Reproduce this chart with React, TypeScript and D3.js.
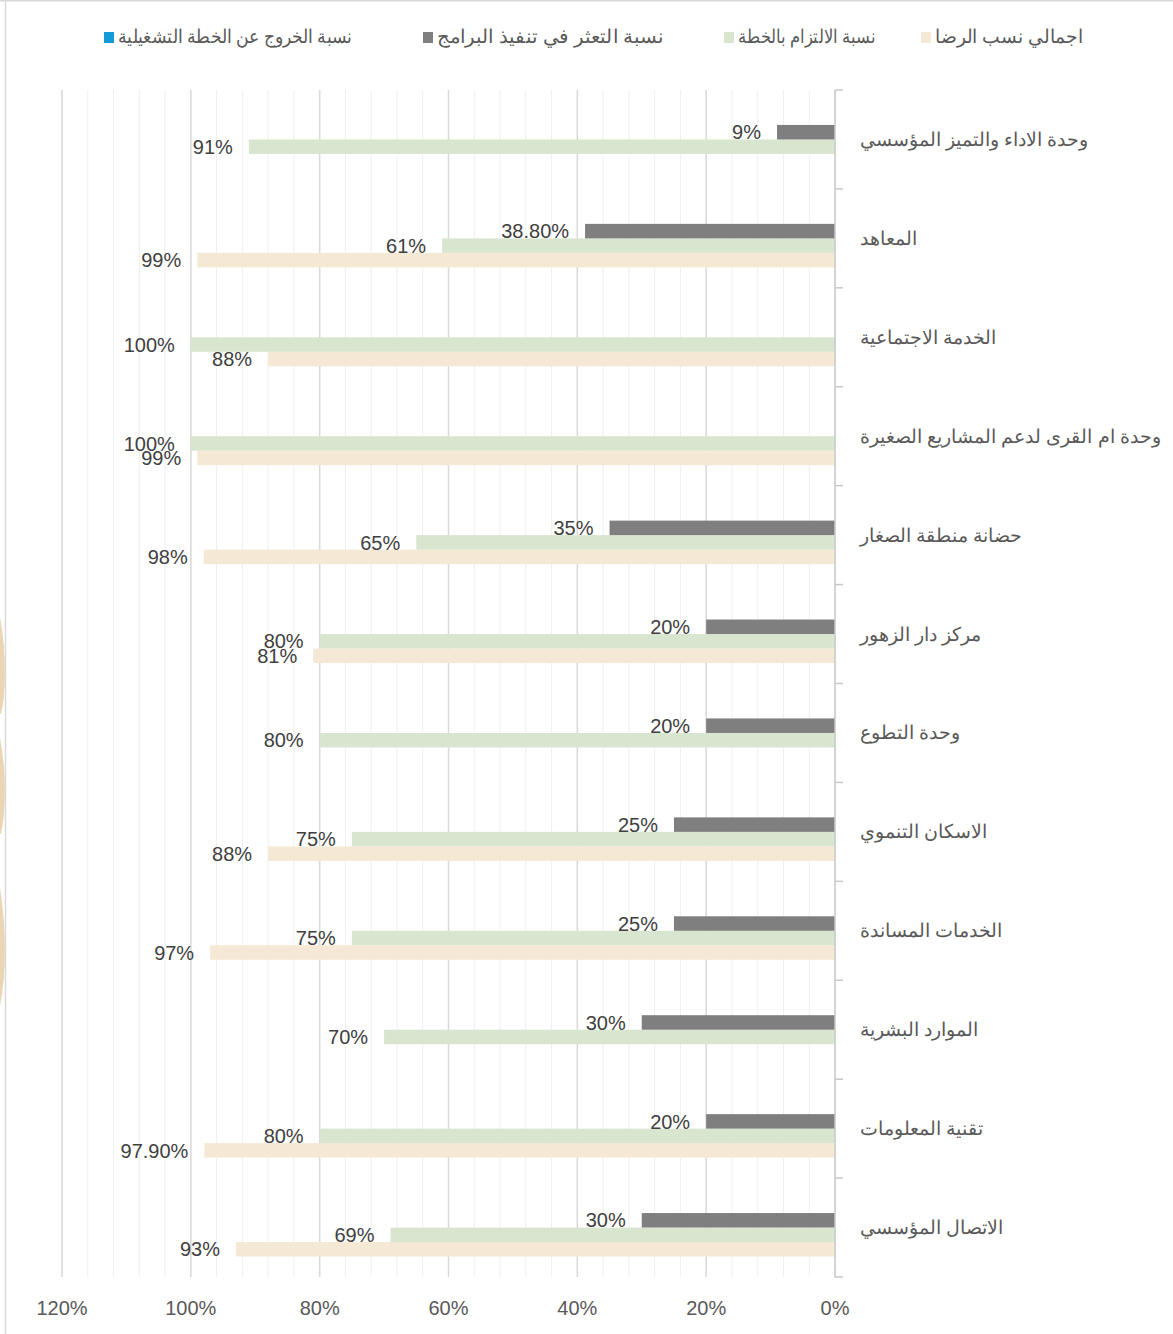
import React from "react";
import * as d3 from "d3";

const categories = [
  "وحدة الاداء والتميز المؤسسي",
  "المعاهد",
  "الخدمة الاجتماعية",
  "وحدة ام القرى لدعم المشاريع الصغيرة",
  "حضانة منطقة الصغار",
  "مركز دار الزهور",
  "وحدة التطوع",
  "الاسكان التنموي",
  "الخدمات المساندة",
  "الموارد البشرية",
  "تقنية المعلومات",
  "الاتصال المؤسسي",
];

const seriesNames = [
  "اجمالي نسب الرضا",
  "نسبة الالتزام بالخطة",
  "نسبة التعثر في تنفيذ البرامج",
  "نسبة الخروج عن الخطة التشغيلية",
];

const satisfaction: (number | null)[] = [null, 0.99, 0.88, 0.99, 0.98, 0.81, null, 0.88, 0.97, null, 0.979, 0.93];
const commitment: (number | null)[] = [0.91, 0.61, 1.0, 1.0, 0.65, 0.8, 0.8, 0.75, 0.75, 0.7, 0.8, 0.69];
const failure: (number | null)[] = [0.09, 0.388, null, null, 0.35, 0.2, 0.2, 0.25, 0.25, 0.3, 0.2, 0.3];
const deviation: (number | null)[] = [null, null, null, null, null, null, null, null, null, null, null, null];

const xTicks = [0, 0.2, 0.4, 0.6, 0.8, 1.0, 1.2];

const seriesColors = ["#f5e9d5", "#d9e6cf", "#7f7f7f", "#149bd7"];
const seriesKeys = ["sat", "comm", "fail", "dev"];
const seriesData = [satisfaction, commitment, failure, deviation];

// legend layout (text left / right edges)
const legendTextLeft = [935, 738, 437, 118];
const legendTextRight = [1083, 875, 663, 352];

function fmt(v: number) {
  const p = v * 100;
  if (Math.abs(p - Math.round(p)) < 1e-6) return `${Math.round(p)}%`;
  return `${p.toFixed(2)}%`;
}

export default function App() {
  const W = 1173;
  const H = 1334;
  const left = 62;
  const right = 835;
  const top = 90;
  const bottom = 1277;

  const x = d3.scaleLinear().domain([0, 1.2]).range([right, left]);
  const y = d3.scaleBand<string>().domain(categories).range([top, bottom]);
  // top to bottom within group: dev, fail, comm, sat
  const inner = d3
    .scaleBand<string>()
    .domain(["dev", "fail", "comm", "sat"])
    .range([0, y.bandwidth()])
    .paddingOuter(1.41);

  const minorTicks = d3.range(0, 1.2001, 0.04);
  const font = "'Liberation Sans', Arial, sans-serif";

  const bars: React.ReactNode[] = [];
  const labels: React.ReactNode[] = [];
  categories.forEach((c, i) => {
    seriesData.forEach((arr, s) => {
      const v = arr[i];
      if (v == null) return;
      const key = seriesKeys[s];
      const by = (y(c) as number) + (inner(key) as number);
      const bh = inner.bandwidth();
      bars.push(
        <rect
          key={`b-${i}-${s}`}
          x={x(v)}
          y={by}
          width={x(0) - x(v)}
          height={bh}
          fill={seriesColors[s]}
        />
      );
      labels.push(
        <text
          key={`l-${i}-${s}`}
          x={x(v) - 16}
          y={by + bh / 2}
          dy="0.36em"
          textAnchor="end"
          fontSize={20}
          fill="#404040"
          fontFamily={font}
        >
          {fmt(v)}
        </text>
      );
    });
  });

  return (
    <svg
      width={W}
      height={H}
      style={{ position: "absolute", left: 0, top: 0, background: "#ffffff" }}
    >
      <rect x={0} y={0} width={W} height={H} fill="#ffffff" />
      {/* watermark fragments at left edge */}
      <g fill="#ecd5b3">
        <path d="M0,617 Q5,645 5,672 Q5,698 1,714 L0,714 Z" />
        <path d="M0,738 Q5,765 5,790 Q5,815 1,834 L0,834 Z" />
        <path d="M0,888 Q5,920 5,950 Q5,980 0,1006 Z" />
      </g>
      {/* border */}
      <line x1={0} x2={W} y1={0.5} y2={0.5} stroke="#d9d9d9" strokeWidth={2} />
      <line x1={5.5} x2={5.5} y1={0} y2={H} stroke="#d9d9d9" strokeWidth={1.5} />

      {/* minor gridlines */}
      {minorTicks.map((t, i) => (
        <line
          key={`mg-${i}`}
          x1={x(t)}
          x2={x(t)}
          y1={top}
          y2={bottom}
          stroke="#efefef"
          strokeWidth={1}
        />
      ))}
      {/* major gridlines */}
      {xTicks.slice(1).map((t, i) => (
        <line
          key={`g-${i}`}
          x1={x(t)}
          x2={x(t)}
          y1={top}
          y2={bottom}
          stroke="#d9d9d9"
          strokeWidth={1.5}
        />
      ))}

      {bars}

      {/* category axis */}
      <line x1={x(0)} x2={x(0)} y1={top} y2={bottom} stroke="#c8c8c8" strokeWidth={1.5} />
      {d3.range(categories.length + 1).map((i) => {
        const yy = i < categories.length ? (y(categories[i]) as number) : bottom;
        return (
          <line
            key={`ct-${i}`}
            x1={x(0)}
            x2={x(0) + 8}
            y1={yy}
            y2={yy}
            stroke="#c8c8c8"
            strokeWidth={1.5}
          />
        );
      })}

      {labels}

      {/* category labels */}
      {categories.map((c, i) => (
        <text
          key={`c-${i}`}
          x={860}
          y={(y(c) as number) + y.bandwidth() / 2}
          dy="0.35em"
          textAnchor="start"
          fontSize={18.5}
          fill="#595959"
          fontFamily={font}
        >
          {c}
        </text>
      ))}

      {/* x tick labels */}
      {xTicks.map((t, i) => (
        <text
          key={`xt-${i}`}
          x={x(t)}
          y={1308}
          dy="0.35em"
          textAnchor="middle"
          fontSize={20}
          fill="#595959"
          fontFamily={font}
        >
          {`${Math.round(t * 100)}%`}
        </text>
      ))}

      {/* legend */}
      {seriesNames.map((n, i) => (
        <g key={`lg-${i}`}>
          <rect x={legendTextLeft[i] - 14} y={32} width={10} height={11} fill={seriesColors[i]} />
          <text
            x={legendTextRight[i]}
            y={37}
            dy="0.35em"
            textAnchor="end"
            fontSize={18.5}
            fill="#595959"
            fontFamily={font}
            textLength={legendTextRight[i] - legendTextLeft[i]}
            lengthAdjust="spacingAndGlyphs"
          >
            {n}
          </text>
        </g>
      ))}
    </svg>
  );
}
